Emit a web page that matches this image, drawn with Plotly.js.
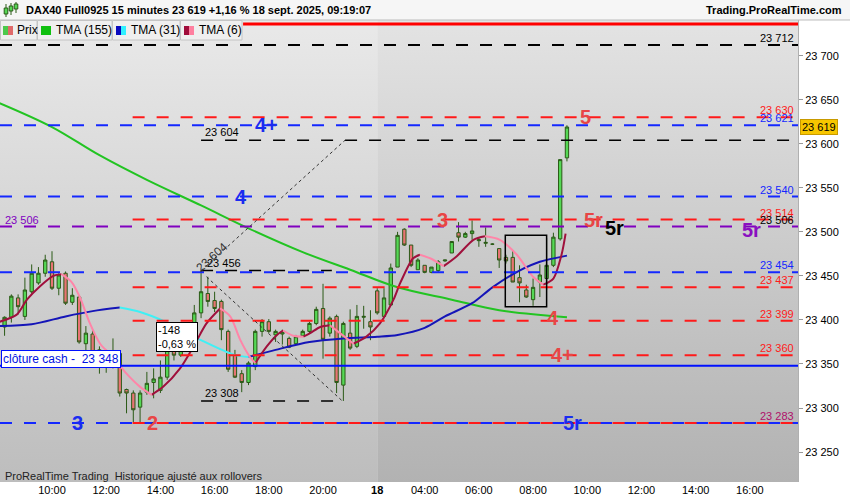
<!DOCTYPE html>
<html><head><meta charset="utf-8">
<script src="https://cdn.plot.ly/plotly-3.0.1.min.js"></script>
<style>html,body{margin:0;padding:0;background:#fff;} #chart{width:850px;height:500px;}</style>
</head><body><div id="chart"></div>
<script>
// ---------- DATA ----------
const openP = [23392,23403,23425,23404,23432,23442,23453,23466,23436,23453,23420,23426,23373,23384,23366,23351,23347,23362,23321,23317,23301,23318,23329,23320,23335,23368,23360,23378,23381,23408,23430,23422,23421,23387,23360,23339,23329,23347,23387,23398,23383,23384,23379,23373,23382,23387,23396,23413,23385,23404,23326,23385,23370,23403,23398,23433,23404,23417,23460,23503,23485,23457,23462,23454,23456,23467,23476,23499,23494,23498,23490,23487,23486,23481,23471,23471,23448,23434,23423,23443,23447,23462,23492,23584];
const highP = [23404,23429,23429,23448,23463,23460,23474,23478,23453,23455,23436,23428,23393,23389,23370,23366,23379,23363,23322,23320,23320,23341,23345,23354,23381,23377,23390,23394,23417,23456,23449,23432,23423,23389,23366,23343,23353,23389,23401,23401,23389,23389,23381,23383,23389,23398,23415,23441,23404,23406,23398,23412,23417,23416,23411,23436,23436,23464,23500,23504,23485,23470,23462,23460,23468,23468,23489,23511,23500,23513,23494,23505,23487,23481,23474,23479,23462,23440,23447,23463,23493,23499,23582,23621];
const lowP = [23382,23397,23406,23400,23430,23440,23449,23434,23428,23417,23417,23373,23360,23354,23339,23340,23345,23313,23294,23284,23283,23315,23311,23317,23332,23354,23358,23366,23377,23402,23415,23409,23377,23341,23334,23318,23326,23343,23381,23385,23375,23372,23368,23372,23381,23385,23394,23356,23381,23317,23308,23366,23368,23390,23377,23406,23402,23416,23460,23484,23460,23457,23453,23453,23454,23466,23476,23489,23493,23491,23483,23483,23485,23459,23464,23443,23420,23425,23416,23426,23434,23460,23490,23580];
const closeP = [23403,23427,23415,23434,23453,23453,23468,23436,23451,23419,23428,23375,23385,23364,23351,23362,23360,23317,23317,23298,23317,23328,23333,23335,23368,23360,23379,23389,23408,23432,23421,23413,23389,23344,23335,23329,23351,23387,23398,23387,23387,23386,23369,23381,23387,23396,23412,23378,23402,23329,23396,23368,23404,23404,23392,23408,23425,23459,23496,23485,23462,23468,23454,23460,23466,23468,23489,23494,23498,23501,23491,23488,23486,23468,23467,23443,23442,23426,23437,23451,23462,23494,23582,23619];

const tma155X = [0,8,15,22,30,37,45,52,59,67,74,84];
const tma155Y = [23647,23619,23587,23559,23530,23504,23477,23457,23437,23423,23411,23403];

const tma31X = [0,5,10,14,18,21,25,30,35,37,41,46,51,56,59,63,66,70,73,77,80,84];
const tma31Y = [23393,23395,23404,23410,23414,23409,23397,23377,23360,23358,23366,23375,23379,23381,23383,23391,23404,23419,23437,23456,23466,23473];

const tma6X = [0.3,2.8,4.3,6.2,8.2,9.4,10.9,12.1,13.6,15.1,17,19,21,22.7,24.4,26.9,28.9,30.8,32.8,34.3,35.8,37.2,38,39.7,41.2,42.1,43.6,45.1,46.1,47.6,49,50.5,52.5,54.4,56.4,58.4,59.4,61.3,62.3,63.8,65.8,67.7,70.2,71.9,74.1,76.6,79,80.5,82,83.2,83.8];
const tma6Y = [23398,23406,23423,23438,23450,23452,23443,23426,23396,23373,23358,23339,23324,23315,23324,23345,23370,23396,23413,23404,23377,23358,23351,23370,23383,23388,23382,23381,23385,23392,23394,23385,23373,23381,23396,23423,23442,23470,23474,23470,23461,23472,23491,23495,23491,23474,23449,23440,23447,23474,23498];

const tickPos = [8,16,24,32,40,48,56,63,71,79,87,95,103,111];
const tickText = ['10:00','12:00','14:00','16:00','18:00','20:00','<b>18</b>','04:00','06:00','08:00','10:00','12:00','14:00','16:00'];

const blueLevels = [23621,23540,23454,23283];
const redLevels = [23630,23514,23437,23399,23360,23283];
const purpleLevels = [23506];
const blackLevels = [23712];
const topRedLevel = 23736;
const cashClose = 23348;
const lastPrice = 23619;

const rightLabelVals = [23712,23630,23621,23540,23514,23506,23454,23437,23399,23360,23283];
const rightLabelKinds = ['k','r','b','b','r','k','b','r','r','r','m'];

const markText = ['4+','4','3','2','3','5','5r','5r','5r','4','4+','5r'];
const markX = [39.7,35.9,11.8,22.8,65.7,86.8,87.9,91,111.3,82,83.4,84.8];
const markY = [23621,23540,23283,23283,23514,23630,23514,23504,23502,23402,23360,23283];
const markKinds = ['b','b','b','r','r','r','r','k','p','r','r','b'];

const swingHigh = {i:30, p:23456};
const swingLow = {i:51, p:23308};
const targetLevel = 23604;
const boxRange = {i0:74.9, i1:81.0, p0:23415, p1:23496};
const swingText = ['-148','-0,63 %'];

// ---------- STYLE / LAYOUT ----------
const W=850,H=500, L=0, R=52, T=20, B=18;
const PW = W-L-R, PH = H-T-B;
const xRange = [0.325, 118.1];
const yRange = [23216, 23740.5];
const sessionSplit = 56.1;
const px = X => (X-L)/PW;
const py = Y => (H-B-Y)/PH;
const FONT = 'Liberation Sans, Arial, sans-serif';
const COL = {b:'#1428ff', r:'#ff1a1a', k:'#000000', p:'#8a00c8', m:'#b0106a'};
const MARKCOL = {b:'#1a2cf0', r:'#e84545', k:'#000000', p:'#8a10c0'};
const fmt = v => String(v).replace(/(\d{2})(\d{3})$/, '$1 $2');

function gradURI(top, bot){
  const svg = "<svg xmlns='http://www.w3.org/2000/svg' width='100' height='100' viewBox='0 0 100 100' preserveAspectRatio='none'><defs><linearGradient id='g' x1='0' y1='0' x2='0' y2='1'><stop offset='0' stop-color='"+top+"'/><stop offset='1' stop-color='"+bot+"'/></linearGradient></defs><rect width='100' height='100' fill='url(#g)'/></svg>";
  return 'data:image/svg+xml;base64,' + btoa(svg);
}
const images = [
  {source:gradURI('#e9e9e9','#bdbdbd'), xref:'x', yref:'paper', x:xRange[0], y:1, sizex:sessionSplit-xRange[0], sizey:1, sizing:'stretch', xanchor:'left', yanchor:'top', layer:'below'},
  {source:gradURI('#e3e3e3','#b2b2b2'), xref:'x', yref:'paper', x:sessionSplit, y:1, sizex:xRange[1]-sessionSplit, sizey:1, sizing:'stretch', xanchor:'left', yanchor:'top', layer:'below'}
];

const traces = [];
const idx = openP.map((_,k)=>k+1);
traces.push({type:'candlestick', x:idx, open:openP, high:highP, low:lowP, close:closeP,
  increasing:{line:{color:'#2b5a17', width:1}, fillcolor:'#55d855'},
  decreasing:{line:{color:'#2b5a17', width:1}, fillcolor:'#e87474'},
  whiskerwidth:0, hoverinfo:'skip', showlegend:false});

traces.push({type:'scatter', mode:'lines', x:tma155X, y:tma155Y, line:{color:'#22c422', width:2, shape:'spline'}, hoverinfo:'skip', showlegend:false});

function dirTraces(xs, ys, upCol, dnCol, w){
  const runs=[]; let cur=null;
  for(let k=0;k<xs.length-1;k++){
    const up = ys[k+1]>=ys[k];
    if(!cur || cur.up!==up){ cur={up, x:[xs[k]], y:[ys[k]]}; runs.push(cur); }
    cur.x.push(xs[k+1]); cur.y.push(ys[k+1]);
  }
  const out=[];
  [true,false].forEach(u=>{
    const X=[],Y=[];
    runs.filter(r=>r.up===u).forEach(r=>{ if(X.length){X.push(null);Y.push(null);} X.push(...r.x); Y.push(...r.y); });
    out.push({type:'scatter', mode:'lines', x:X, y:Y, connectgaps:false, line:{color:u?upCol:dnCol, width:w, shape:'spline', smoothing:0.8}, hoverinfo:'skip', showlegend:false});
  });
  return out;
}
traces.push(...dirTraces(tma31X, tma31Y, '#1515b8', '#3ff0f5', 2));
traces.push(...dirTraces(tma6X, tma6Y, '#a0103c', '#ff85a8', 2));

// ---------- SHAPES ----------
const shapes=[];
const hline=(y,x0,x1,color,width,dash)=>shapes.push({type:'line', xref:'x', yref:'y', x0, x1, y0:y, y1:y, line:{color, width, dash}, layer:'above'});
blackLevels.forEach(v=>hline(v, xRange[0], xRange[1], '#000', 2, '12px,12px'));
hline(topRedLevel, 36.2, xRange[1], '#ff0000', 3, 'solid');
blueLevels.forEach(v=>hline(v, xRange[0], xRange[1], COL.b, 2, '12px,12px'));
redLevels.forEach(v=>hline(v, 19.9, xRange[1], COL.r, 2, '12px,12px'));
purpleLevels.forEach(v=>hline(v, xRange[0], xRange[1], '#8000c0', 2, '12px,12px'));
hline(targetLevel, swingHigh.i, xRange[1], '#000', 1.5, '12px,12px');
hline(swingHigh.p, swingHigh.i, 49.3, '#000', 1.5, '12px,12px');
hline(swingLow.p, swingHigh.i, swingLow.i, '#000', 1.5, '12px,12px');
hline(cashClose, xRange[0], xRange[1], '#0010ff', 2, 'solid');
shapes.push({type:'line', xref:'x', yref:'y', x0:swingHigh.i, y0:swingHigh.p, x1:51.25, y1:targetLevel, line:{color:'#333', width:1, dash:'3px,3px'}});
shapes.push({type:'line', xref:'x', yref:'y', x0:30.8, y0:23449, x1:swingLow.i-0.15, y1:swingLow.p, line:{color:'#333', width:1, dash:'3px,3px'}});
shapes.push({type:'rect', xref:'x', yref:'y', x0:boxRange.i0, x1:boxRange.i1, y0:boxRange.p0, y1:boxRange.p1, line:{color:'#000', width:1.5}, fillcolor:'rgba(0,0,0,0)'});

// header and legend bar chrome (paper coordinates)
shapes.push({type:'rect', xref:'paper', yref:'paper', x0:px(0), x1:px(W), y0:py(20), y1:py(0), fillcolor:'#f6f6f6', line:{width:0}, layer:'above'});
shapes.push({type:'line', xref:'paper', yref:'paper', x0:px(0), x1:px(W), y0:py(20), y1:py(20), line:{color:'#bdbdbd', width:1}});
const tabs=[[0,37],[37,112],[112,180],[180,242]];
tabs.forEach(t=>shapes.push({type:'rect', xref:'paper', yref:'paper', x0:px(t[0]+0.5), x1:px(t[1]), y0:py(40), y1:py(20.5), fillcolor:'#efefef', line:{color:'#c4c4c4', width:1}, layer:'above'}));
const swatch=(x0,x1,c)=>shapes.push({type:'rect', xref:'paper', yref:'paper', x0:px(x0), x1:px(x1), y0:py(35), y1:py(26), fillcolor:c, line:{width:0}, layer:'above'});
swatch(3,8,'#4cc94c'); swatch(8,13,'#e06a6a');
swatch(41,51,'#10c010');
swatch(116,121,'#0a0ac0'); swatch(121,126,'#30f0ff');
swatch(184,189,'#a00c3a'); swatch(189,194,'#ff80a0');
[[6,4,15],[11,3,13],[16,2,11]].forEach(c=>shapes.push({type:'line', xref:'paper', yref:'paper', x0:px(c[0]), x1:px(c[0]), y0:py(c[2]+2), y1:py(c[1]), line:{color:'#2b5a17', width:1}, layer:'above'}));
[[6,8,14],[11,6,11],[16,4,9]].forEach(c=>shapes.push({type:'rect', xref:'paper', yref:'paper', x0:px(c[0]-1.8), x1:px(c[0]+1.8), y0:py(c[2]), y1:py(c[1]), fillcolor:'#55d855', line:{color:'#2b5a17', width:1}, layer:'above'}));

// ---------- ANNOTATIONS ----------
const ann=[];
const A=o=>ann.push(Object.assign({showarrow:false, font:{family:FONT, size:11, color:'#000'}}, o));
A({xref:'paper', yref:'paper', x:px(24), y:py(10), xanchor:'left', yanchor:'middle', text:'<b>DAX40 Full0925 15 minutes 23 619 +1,16 % 18 sept. 2025, 09:19:07</b>', font:{family:FONT, size:11, color:'#000'}});
A({xref:'paper', yref:'paper', x:px(844), y:py(10), xanchor:'right', yanchor:'middle', text:'<b>Trading.ProRealTime.com</b>', font:{family:FONT, size:11, color:'#000'}});
[['Prix',15],['TMA (155)',54],['TMA (31)',129],['TMA (6)',197]].forEach(t=>A({xref:'paper', yref:'paper', x:px(t[1]), y:py(30.5), xanchor:'left', yanchor:'middle', text:t[0], font:{family:FONT, size:12, color:'#000'}}));

rightLabelVals.forEach((v,k)=>A({xref:'paper', yref:'y', x:px(796), y:v, xanchor:'right', yanchor:'bottom', yshift:-1, text:fmt(v), font:{family:FONT, size:11, color:COL[rightLabelKinds[k]]}}));
markText.forEach((t,k)=>A({xref:'x', yref:'y', x:markX[k], y:markY[k], text:'<b>'+t+'</b>', font:{family:FONT, size:20, color:MARKCOL[markKinds[k]]}}));

A({xref:'paper', yref:'y', x:px(3), y:purpleLevels[0], xanchor:'left', yanchor:'bottom', yshift:-1, text:fmt(purpleLevels[0]), font:{family:FONT, size:11, color:'#8000c0'}});
A({xref:'x', yref:'y', x:30.3, y:targetLevel, xanchor:'left', yanchor:'bottom', text:fmt(targetLevel)});
A({xref:'x', yref:'y', x:30.6, y:swingHigh.p, xanchor:'left', yanchor:'bottom', text:fmt(swingHigh.p)});
A({xref:'x', yref:'y', x:30.3, y:swingLow.p, xanchor:'left', yanchor:'bottom', text:fmt(swingLow.p)});
A({xref:'x', yref:'y', x:31.6, y:23472, textangle:-42, text:fmt(targetLevel), font:{family:FONT, size:12, color:'#333'}});
A({xref:'x', yref:'y', x:26.4, y:23381, text:swingText.join('<br>'), align:'left', bgcolor:'#ffffff', bordercolor:'#000', borderwidth:1, borderpad:1});
A({xref:'paper', yref:'y', x:px(1), y:cashClose, xanchor:'left', yanchor:'bottom', yshift:-2, text:'clôture cash -  '+fmt(cashClose), bgcolor:'#ffffff', bordercolor:'#0010ff', borderwidth:1, borderpad:1, font:{family:FONT, size:12, color:'#0010e0'}});
A({xref:'paper', yref:'y', x:px(800), y:lastPrice, xanchor:'left', yanchor:'middle', text:fmt(lastPrice), bgcolor:'#f7c600', bordercolor:'#c89a00', borderwidth:1, borderpad:1, font:{family:FONT, size:11, color:'#000'}});
A({xref:'paper', yref:'paper', x:px(3), y:py(476), xanchor:'left', yanchor:'middle', text:'ProRealTime Trading  Historique ajusté aux rollovers', font:{family:FONT, size:11, color:'#222'}});

const layout={
  width:W, height:H, margin:{l:L, r:R, t:T, b:B}, paper_bgcolor:'#ffffff', plot_bgcolor:'#d4d4d4',
  separators:', ', showlegend:false, hovermode:false,
  font:{family:FONT, size:11, color:'#000'},
  xaxis:{range:xRange, tickmode:'array', tickvals:tickPos, ticktext:tickText, showgrid:false, zeroline:false, ticks:'', rangeslider:{visible:false}, tickfont:{family:FONT, size:11}, fixedrange:true},
  yaxis:{range:yRange, side:'right', dtick:50, tick0:23250, tickformat:',d', showgrid:false, zeroline:false, ticks:'outside', ticklen:4, tickcolor:'#999', showline:true, linecolor:'#b0b0b0', tickfont:{family:FONT, size:11}, fixedrange:true},
  shapes, annotations:ann, images
};
Plotly.newPlot('chart', traces, layout, {displayModeBar:false, staticPlot:true});
</script></body></html>
